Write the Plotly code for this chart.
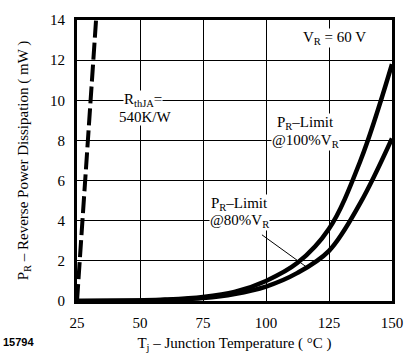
import plotly.graph_objects as go

# ---- data ----
tj = [25, 40, 50, 60, 75, 87.5, 100, 112.5, 125, 137.5, 150]
pr_100 = [0, 0.01, 0.03, 0.07, 0.2, 0.45, 1.0, 1.9, 3.6, 7.0, 11.8]
pr_80 = [0, 0.01, 0.02, 0.05, 0.15, 0.35, 0.72, 1.4, 2.5, 4.9, 8.1]
rth_t = [25, 32.56]
rth_p = [0, 14]
x_ticks = [25, 50, 75, 100, 125, 150]
y_ticks = [0, 2, 4, 6, 8, 10, 12, 14]

FONT = "Liberation Serif"

fig = go.Figure()
fig.add_trace(go.Scatter(x=tj, y=pr_100, mode="lines", line=dict(color="black", width=4.5, shape="spline"),
                         showlegend=False, hoverinfo="skip"))
fig.add_trace(go.Scatter(x=tj, y=pr_80, mode="lines", line=dict(color="black", width=4.5, shape="spline"),
                         showlegend=False, hoverinfo="skip"))
fig.add_trace(go.Scatter(x=rth_t, y=rth_p, mode="lines", line=dict(color="black", width=4, dash="17px,5px"),
                         showlegend=False, hoverinfo="skip"))

ann_font = dict(family=FONT, size=15, color="black")
annos = [
    dict(x=127, y=13.1, text="V<sub>R</sub> = 60 V"),
    dict(x=51, y=10.0, text="R<sub>thJA</sub>="),
    dict(x=52, y=9.15, text="540K/W"),
    dict(x=115.5, y=8.85, text="P<sub>R</sub>–Limit"),
    dict(x=115.5, y=7.98, text="@100%V<sub>R</sub>"),
    dict(x=89.5, y=4.85, text="P<sub>R</sub>–Limit"),
    dict(x=89.5, y=3.98, text="@80%V<sub>R</sub>"),
]
for a in annos:
    fig.add_annotation(x=a["x"], y=a["y"], xref="x", yref="y", text=a["text"], showarrow=False,
                       font=ann_font, bgcolor="white", borderpad=0)

# leader line to 80% curve
fig.add_annotation(x=116, y=1.7, ax=97.8, ay=3.35, xref="x", yref="y", axref="x", ayref="y",
                   text="", showarrow=True, arrowhead=0, arrowwidth=1, arrowcolor="black")

fig.add_annotation(x=-0.24, y=-0.145, xref="paper", yref="paper", text="<b>15794</b>", showarrow=False,
                   font=dict(family="Liberation Sans", size=11, color="black"), xanchor="left", yanchor="middle")

fig.update_layout(
    width=415, height=362,
    margin=dict(l=77, r=14, t=13, b=60),
    plot_bgcolor="white", paper_bgcolor="white",
    font=dict(family=FONT, size=15, color="black"),
)
fig.update_xaxes(range=[25, 150], tickvals=x_ticks, ticktext=[str(v) for v in x_ticks],
                 showgrid=True, gridcolor="black", gridwidth=1, zeroline=False,
                 showline=True, linecolor="black", linewidth=3, mirror=True,
                 ticks="outside", ticklen=6, tickcolor="rgba(0,0,0,0)",
                 tickfont=dict(family=FONT, size=15),
                 title=dict(text="T<sub>j</sub> – Junction Temperature ( °C )", font=dict(family=FONT, size=15), standoff=8))
fig.update_yaxes(range=[0, 14], tickvals=y_ticks, ticktext=[str(v) for v in y_ticks],
                 showgrid=True, gridcolor="black", gridwidth=1, zeroline=False,
                 showline=True, linecolor="black", linewidth=3, mirror=True,
                 ticks="outside", ticklen=6, tickcolor="rgba(0,0,0,0)",
                 tickfont=dict(family=FONT, size=15),
                 title=dict(text="P<sub>R</sub> – Reverse Power Dissipation ( mW )", font=dict(family=FONT, size=15), standoff=18))

fig.write_html("out.html", config={"displayModeBar": False},
               post_script="document.body.style.margin='0';document.body.style.padding='0';")
